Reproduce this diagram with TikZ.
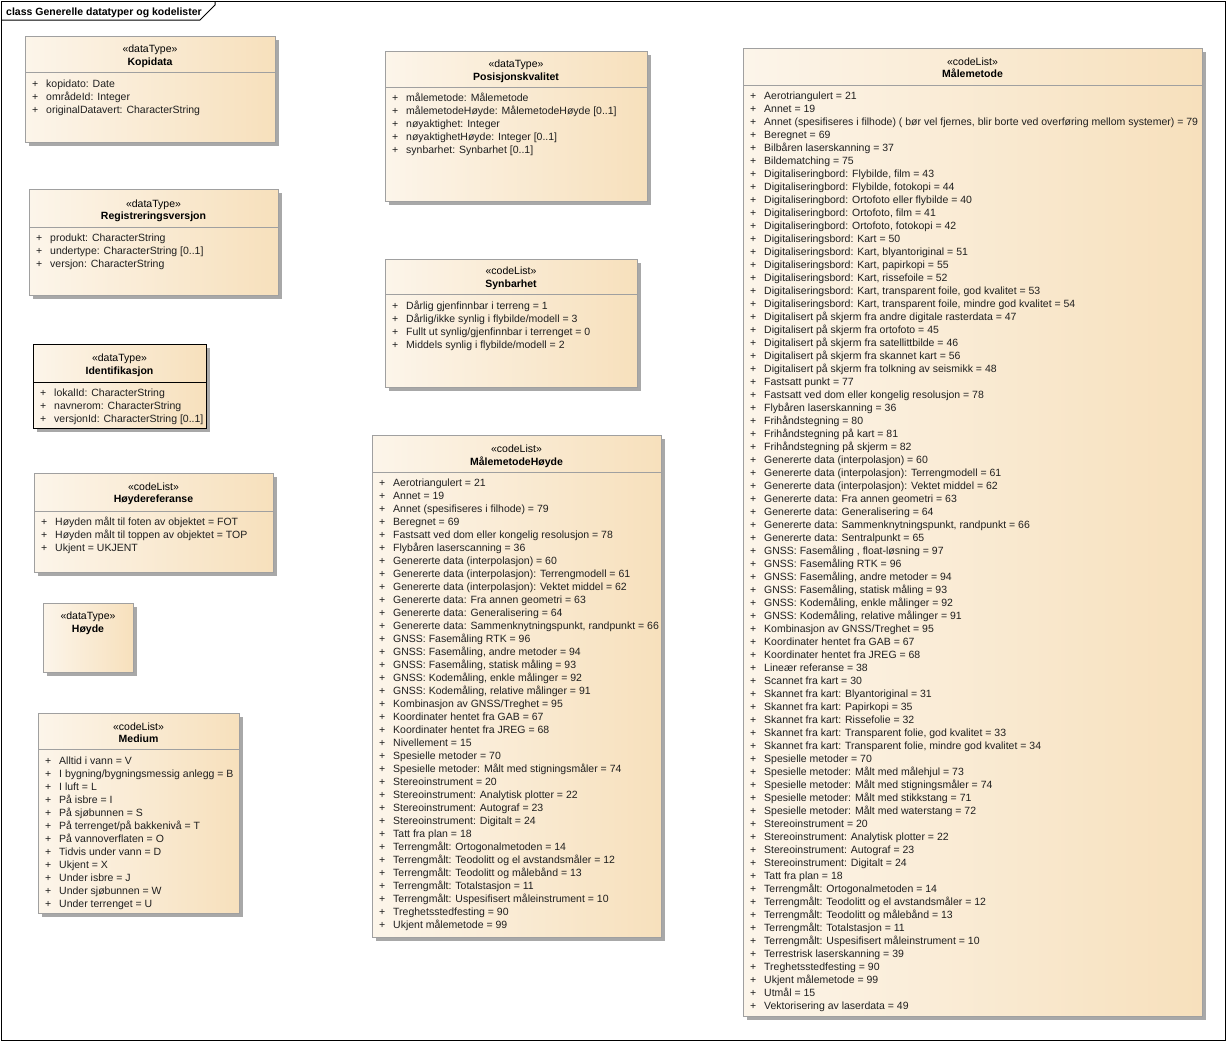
\documentclass[tikz,border=0pt]{standalone}
\usepackage{fontspec}
\setmainfont{Liberation Sans}
\usetikzlibrary{shadows}
\definecolor{fillL}{RGB}{252,245,234}
\definecolor{fillR}{RGB}{247,224,188}
\definecolor{boxline}{RGB}{160,160,160}
\definecolor{shadowc}{RGB}{168,168,168}
\tikzset{
  cls/.style={draw=boxline, line width=1pt, left color=fillL, right color=fillR,
    anchor=north west, inner sep=0pt,
    drop shadow={shadow xshift=3pt, shadow yshift=-3pt, fill=shadowc, opacity=1}},
  selected/.style={draw=black},
  sepline/.style={draw=boxline, line width=1pt},
  attr/.style={anchor=base west, inner sep=0pt, font=\fontsize{10.5}{13}\selectfont, text=black!88},
  stereo/.style={anchor=base, inner sep=0pt, font=\fontsize{10.5}{13}\selectfont},
  cname/.style={anchor=base, inner sep=0pt, font=\fontsize{10.5}{13}\selectfont\bfseries},
  framettl/.style={anchor=base west, inner sep=0pt, font=\fontsize{10.5}{13}\selectfont\bfseries},
}
% #1 name, #2 left, #3 top, #4 right, #5 bottom, #6 extra style
\newcommand\ubox[6]{\node[cls,#6,minimum width={#4-#2},minimum height={#5-#3}] (#1) at (#2,#3) {};}
% #1 prefix, #2 x of plus, #3 first baseline, #4 list
\newcommand\attrs[4]{%
  \foreach \t [count=\i] in {#4} {%
    \node[attr] (#1-\i) at ({#2},{#3+13*(\i-1)}) {\makebox[14pt][l]{+}\t};
  }}
\begin{document}
\begin{tikzpicture}[x=1pt,y=-1pt]
\useasboundingbox (0,0) rectangle (1227,1042);
% frame
\draw[line width=1pt] (1,1) rectangle (1225,1040);
\draw[line width=1pt] (1,20) -- (200,20) -- (215,5) -- (215,1);
\node[framettl] (title) at (6,15) {class Generelle datatyper og kodelister};

% Kopidata
\ubox{kop}{25}{36}{275}{142}{}
\draw[sepline] (25,72) -- (275,72);
\node[stereo] (kop-s) at (150,52) {«dataType»};
\node[cname] (kop-n) at (150,65) {Kopidata};
\attrs{kop}{32}{87}{{kopidato: Date},{områdeId: Integer},{originalDatavert: CharacterString}}

% Registreringsversjon
\ubox{reg}{29}{189}{278}{295}{}
\draw[sepline] (29,227) -- (278,227);
\node[stereo] (reg-s) at (153.5,207) {«dataType»};
\node[cname] (reg-n) at (153.5,219) {Registreringsversjon};
\attrs{reg}{36}{241}{{produkt: CharacterString},{undertype: CharacterString [0..1]},{versjon: CharacterString}}

% Identifikasjon
\ubox{ident}{33}{344}{206}{428}{selected}
\draw[line width=1pt] (33,382) -- (206,382);
\node[stereo] (ident-s) at (119.5,361) {«dataType»};
\node[cname] (ident-n) at (119.5,374) {Identifikasjon};
\attrs{ident}{40}{396}{{lokalId: CharacterString},{navnerom: CharacterString},{versjonId: CharacterString [0..1]}}

% Hoydereferanse
\ubox{href}{34}{473}{273}{572}{}
\draw[sepline] (34,511) -- (273,511);
\node[stereo] (href-s) at (153.5,490) {«codeList»};
\node[cname] (href-n) at (153.5,502) {Høydereferanse};
\attrs{href}{41}{525}{{Høyden målt til foten av objektet = FOT},{Høyden målt til toppen av objektet = TOP},{Ukjent = UKJENT}}

% Hoyde
\ubox{hoyde}{43}{603}{133}{672}{}
\node[stereo] (hoyde-s) at (88,619) {«dataType»};
\node[cname] (hoyde-n) at (88,632) {Høyde};

% Medium
\ubox{med}{38}{713}{239}{913}{}
\draw[sepline] (38,749) -- (239,749);
\node[stereo] (med-s) at (138.5,730) {«codeList»};
\node[cname] (med-n) at (138.5,742) {Medium};
\attrs{med}{45}{764}{{Alltid i vann = V},{I bygning/bygningsmessig anlegg = B},{I luft = L},{På isbre = I},{På sjøbunnen = S},{På terrenget/på bakkenivå = T},{På vannoverflaten = O},{Tidvis under vann = D},{Ukjent = X},{Under isbre = J},{Under sjøbunnen = W},{Under terrenget = U}}

% Posisjonskvalitet
\ubox{pos}{385}{51}{647}{201}{}
\draw[sepline] (385,87) -- (647,87);
\node[stereo] (pos-s) at (516,67) {«dataType»};
\node[cname] (pos-n) at (516,80) {Posisjonskvalitet};
\attrs{pos}{392}{101}{{målemetode: Målemetode},{målemetodeHøyde: MålemetodeHøyde [0..1]},{nøyaktighet: Integer},{nøyaktighetHøyde: Integer [0..1]},{synbarhet: Synbarhet [0..1]}}

% Synbarhet
\ubox{syn}{385}{259}{637}{387}{}
\draw[sepline] (385,294) -- (637,294);
\node[stereo] (syn-s) at (511,274) {«codeList»};
\node[cname] (syn-n) at (511,287) {Synbarhet};
\attrs{syn}{392}{309}{{Dårlig gjenfinnbar i terreng = 1},{Dårlig/ikke synlig i flybilde/modell = 3},{Fullt ut synlig/gjenfinnbar i terrenget = 0},{Middels synlig i flybilde/modell = 2}}

% MalemetodeHoyde
\ubox{mmh}{372}{435}{661}{937}{}
\draw[sepline] (372,472) -- (661,472);
\node[stereo] (mmh-s) at (516.5,452) {«codeList»};
\node[cname] (mmh-n) at (516.5,465) {MålemetodeHøyde};
\attrs{mmh}{379}{486}{{Aerotriangulert = 21},{Annet = 19},{Annet (spesifiseres i filhode) = 79},{Beregnet = 69},{Fastsatt ved dom eller kongelig resolusjon = 78},{Flybåren laserscanning = 36},{Genererte data (interpolasjon) = 60},{Genererte data (interpolasjon): Terrengmodell = 61},{Genererte data (interpolasjon): Vektet middel = 62},{Genererte data: Fra annen geometri = 63},{Genererte data: Generalisering = 64},{Genererte data: Sammenknytningspunkt, randpunkt = 66},{GNSS: Fasemåling RTK = 96},{GNSS: Fasemåling, andre metoder = 94},{GNSS: Fasemåling, statisk måling = 93},{GNSS: Kodemåling, enkle målinger = 92},{GNSS: Kodemåling, relative målinger = 91},{Kombinasjon av GNSS/Treghet = 95},{Koordinater hentet fra GAB = 67},{Koordinater hentet fra JREG = 68},{Nivellement = 15},{Spesielle metoder = 70},{Spesielle metoder: Målt med stigningsmåler = 74},{Stereoinstrument = 20},{Stereoinstrument: Analytisk plotter = 22},{Stereoinstrument: Autograf = 23},{Stereoinstrument: Digitalt = 24},{Tatt fra plan = 18},{Terrengmålt: Ortogonalmetoden = 14},{Terrengmålt: Teodolitt og el avstandsmåler = 12},{Terrengmålt: Teodolitt og målebånd = 13},{Terrengmålt: Totalstasjon = 11},{Terrengmålt: Uspesifisert måleinstrument = 10},{Treghetsstedfesting = 90},{Ukjent målemetode = 99}}

% Malemetode
\ubox{mm}{743}{48}{1202}{1016}{}
\draw[sepline] (743,85) -- (1202,85);
\node[stereo] (mm-s) at (972.5,65) {«codeList»};
\node[cname] (mm-n) at (972.5,77) {Målemetode};
\attrs{mm}{750}{99}{{Aerotriangulert = 21},{Annet = 19},{Annet (spesifiseres i filhode) ( bør vel fjernes, blir borte ved overføring mellom systemer) = 79},{Beregnet = 69},{Bilbåren laserskanning = 37},{Bildematching = 75},{Digitaliseringbord: Flybilde, film = 43},{Digitaliseringbord: Flybilde, fotokopi = 44},{Digitaliseringbord: Ortofoto eller flybilde = 40},{Digitaliseringbord: Ortofoto, film = 41},{Digitaliseringbord: Ortofoto, fotokopi = 42},{Digitaliseringsbord: Kart = 50},{Digitaliseringsbord: Kart, blyantoriginal = 51},{Digitaliseringsbord: Kart, papirkopi = 55},{Digitaliseringsbord: Kart, rissefoile = 52},{Digitaliseringsbord: Kart, transparent foile, god kvalitet = 53},{Digitaliseringsbord: Kart, transparent foile, mindre god kvalitet = 54},{Digitalisert på skjerm fra andre digitale rasterdata = 47},{Digitalisert på skjerm fra ortofoto = 45},{Digitalisert på skjerm fra satellittbilde = 46},{Digitalisert på skjerm fra skannet kart = 56},{Digitalisert på skjerm fra tolkning av seismikk = 48},{Fastsatt punkt = 77},{Fastsatt ved dom eller kongelig resolusjon = 78},{Flybåren laserskanning = 36},{Frihåndstegning = 80},{Frihåndstegning på kart = 81},{Frihåndstegning på skjerm = 82},{Genererte data (interpolasjon) = 60},{Genererte data (interpolasjon): Terrengmodell = 61},{Genererte data (interpolasjon): Vektet middel = 62},{Genererte data: Fra annen geometri = 63},{Genererte data: Generalisering = 64},{Genererte data: Sammenknytningspunkt, randpunkt = 66},{Genererte data: Sentralpunkt = 65},{GNSS: Fasemåling , float-løsning = 97},{GNSS: Fasemåling RTK = 96},{GNSS: Fasemåling, andre metoder = 94},{GNSS: Fasemåling, statisk måling = 93},{GNSS: Kodemåling, enkle målinger = 92},{GNSS: Kodemåling, relative målinger = 91},{Kombinasjon av GNSS/Treghet = 95},{Koordinater hentet fra GAB = 67},{Koordinater hentet fra JREG = 68},{Lineær referanse = 38},{Scannet fra kart = 30},{Skannet fra kart: Blyantoriginal = 31},{Skannet fra kart: Papirkopi = 35},{Skannet fra kart: Rissefolie = 32},{Skannet fra kart: Transparent folie, god kvalitet = 33},{Skannet fra kart: Transparent folie, mindre god kvalitet = 34},{Spesielle metoder = 70},{Spesielle metoder: Målt med målehjul = 73},{Spesielle metoder: Målt med stigningsmåler = 74},{Spesielle metoder: Målt med stikkstang = 71},{Spesielle metoder: Målt med waterstang = 72},{Stereoinstrument = 20},{Stereoinstrument: Analytisk plotter = 22},{Stereoinstrument: Autograf = 23},{Stereoinstrument: Digitalt = 24},{Tatt fra plan = 18},{Terrengmålt: Ortogonalmetoden = 14},{Terrengmålt: Teodolitt og el avstandsmåler = 12},{Terrengmålt: Teodolitt og målebånd = 13},{Terrengmålt: Totalstasjon = 11},{Terrengmålt: Uspesifisert måleinstrument = 10},{Terrestrisk laserskanning = 39},{Treghetsstedfesting = 90},{Ukjent målemetode = 99},{Utmål = 15},{Vektorisering av laserdata = 49}}
\end{tikzpicture}
\end{document}
